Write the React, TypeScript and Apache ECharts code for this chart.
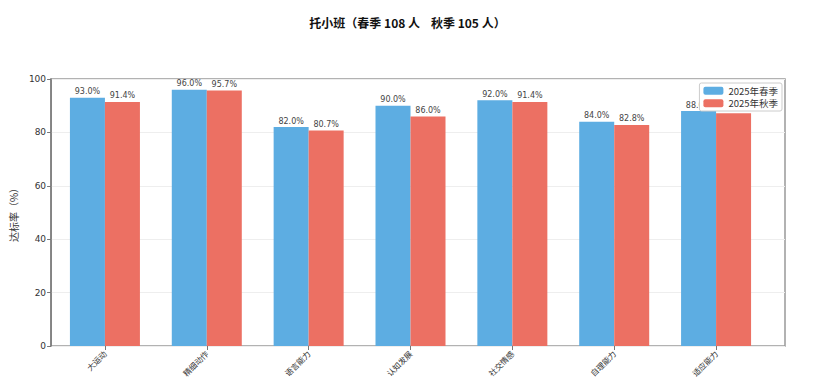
import React, { useEffect, useRef } from "react";
import * as echarts from "echarts";

const categories = ["大运动", "精细动作", "语言能力", "认知发展", "社交情感", "自理能力", "适应能力"];
const springValues = [93.0, 96.0, 82.0, 90.0, 92.0, 84.0, 88.0];
const autumnValues = [91.4, 95.7, 80.7, 86.0, 91.4, 82.8, 87.2];
const seriesNames = ["2025年春季", "2025年秋季"];
const titleText = "托小班（春季 108 人    秋季 105 人）";
const yAxisName = "达标率（%）";

const FONT = "'Noto Sans CJK SC', 'DejaVu Sans', sans-serif";

export default function App() {
  const ref = useRef<HTMLDivElement>(null);
  useEffect(() => {
    if (!ref.current) return;
    const chart = echarts.init(ref.current, undefined, { renderer: "svg" });
    const labelCfg = {
      show: true,
      position: "top" as const,
      distance: 2,
      fontSize: 8,
      fontWeight: "normal" as const,
      color: "#444",
      fontFamily: "'DejaVu Sans', sans-serif",
      formatter: (p: any) => Number(p.value).toFixed(1) + "%",
    };
    chart.setOption({
      animation: false,
      textStyle: { fontFamily: FONT },
      title: {
        text: titleText,
        left: "center",
        top: 11,
        textStyle: { fontSize: 12, fontWeight: "bold", color: "#111", fontFamily: FONT },
      },
      legend: {
        orient: "vertical",
        right: 33,
        top: 83,
        itemWidth: 20,
        itemHeight: 8,
        itemGap: 3,
        padding: [3, 4, 3, 4],
        backgroundColor: "#fff",
        borderColor: "#ccc",
        borderWidth: 1,
        borderRadius: 2,
        textStyle: { fontSize: 9.5, color: "#333", fontFamily: FONT },
        data: seriesNames,
        z: 10,
      },
      grid: [
        {
          left: 36,
          right: 30,
          top: 79,
          bottom: 45,
          show: true,
          borderColor: "#999",
          borderWidth: 1.5,
          backgroundColor: "transparent",
        },
        {
          left: 54,
          right: 48,
          top: 79,
          bottom: 45,
        },
      ],
      xAxis: [
        {
          gridIndex: 0,
          type: "category",
          data: categories,
          show: false,
        },
        {
          gridIndex: 1,
          type: "category",
          data: categories,
          boundaryGap: true,
          axisLine: { show: false },
          axisTick: { show: true, alignWithLabel: true, length: 4, lineStyle: { color: "#777" } },
          axisLabel: {
            interval: 0,
            rotate: 45,
            fontSize: 8,
            color: "#333",
            margin: 6,
            fontFamily: FONT,
          },
        },
      ],
      yAxis: [
        {
          gridIndex: 0,
          type: "value",
          min: 0,
          max: 100,
          interval: 20,
          name: yAxisName,
          nameLocation: "middle",
          nameGap: 28,
          nameTextStyle: { fontSize: 10, color: "#333", fontFamily: FONT },
          axisLine: { show: true, onZero: false, lineStyle: { color: "#777", width: 1.5 } },
          axisTick: { show: true, length: 4, lineStyle: { color: "#777" } },
          axisLabel: { fontSize: 9, color: "#333", margin: 5, fontFamily: "'DejaVu Sans', sans-serif" },
          splitLine: { show: true, lineStyle: { color: "#eee", width: 1 } },
        },
        {
          gridIndex: 1,
          type: "value",
          min: 0,
          max: 100,
          interval: 20,
          show: false,
          splitLine: { show: false },
        },
      ],
      series: [
        {
          name: seriesNames[0],
          type: "bar",
          xAxisIndex: 1,
          yAxisIndex: 1,
          data: springValues,
          barWidth: 35,
          barGap: "0%",
          itemStyle: { color: "#5DADE2" },
          label: labelCfg,
        },
        {
          name: seriesNames[1],
          type: "bar",
          xAxisIndex: 1,
          yAxisIndex: 1,
          data: autumnValues,
          barWidth: 35,
          barGap: "0%",
          itemStyle: { color: "#EC7063" },
          label: labelCfg,
        },
      ],
    });
    return () => chart.dispose();
  }, []);
  return (
    <div
      ref={ref}
      style={{ position: "fixed", left: 0, top: 0, width: 815, height: 391, background: "#fff" }}
    />
  );
}
